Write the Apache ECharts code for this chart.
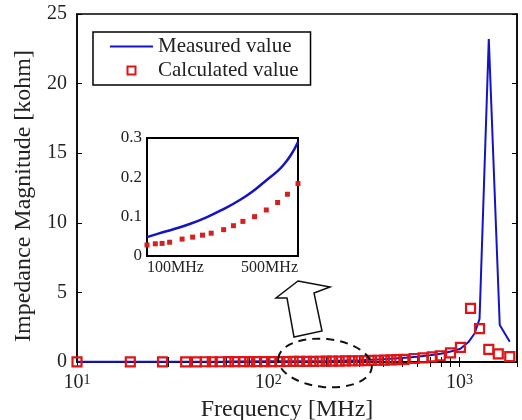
<!DOCTYPE html>
<html>
<head>
<meta charset="utf-8">
<script src="https://cdn.jsdelivr.net/npm/echarts@6/dist/echarts.min.js"></script>
<style>
  html, body { margin: 0; padding: 0; background: #fff; }
  #main { width: 522px; height: 420px; }
</style>
</head>
<body>
<div id="main"></div>
<script>
// main plot: frequency [MHz] and impedance [kohm]
var measFreq = [10, 30, 60, 100, 150, 200, 300, 400, 500, 600, 700, 800, 900, 1012, 1119, 1200, 1274, 1424, 1625, 1833];
var measVal  = [0.01, 0.02, 0.035, 0.05, 0.062, 0.075, 0.12, 0.19, 0.29, 0.38, 0.48, 0.6, 0.75, 0.95, 1.46, 2.05, 3.1, 23.2, 2.66, 1.46];

var calcFreq = [10, 19, 28, 37, 42, 47, 51, 56, 62, 67, 74, 80, 87, 96, 104, 115, 125, 135, 146, 159, 172, 186, 201, 217,
                235, 254, 275, 297, 321, 347, 375, 405, 438, 470, 512, 580, 646, 720, 794, 898, 1012, 1143, 1274, 1424, 1596, 1833];
var calcVal  = [0.005, 0.008, 0.011, 0.014, 0.015, 0.017, 0.018, 0.019, 0.021, 0.022, 0.024, 0.025, 0.026, 0.028, 0.03, 0.033, 0.036, 0.04, 0.043, 0.046, 0.05, 0.053, 0.057, 0.062,
                0.068, 0.075, 0.082, 0.09, 0.1, 0.112, 0.125, 0.14, 0.155, 0.17, 0.19, 0.25, 0.3, 0.37, 0.45, 0.65, 1.05, 3.85, 2.4, 0.9, 0.58, 0.38];

// inset (100 - 500 MHz)
var insetMeasFreq = [100, 130, 170, 215, 259, 300, 347, 385, 418, 445, 462, 482, 500];
var insetMeasVal  = [0.048, 0.057, 0.068, 0.082, 0.099, 0.118, 0.143, 0.168, 0.194, 0.215, 0.232, 0.258, 0.29];
var insetCalcFreq = [100, 122, 140, 160, 193, 221, 247, 270, 303, 329, 354, 385, 416, 446, 472, 500];
var insetCalcVal  = [0.028, 0.031, 0.032, 0.035, 0.043, 0.048, 0.053, 0.058, 0.067, 0.077, 0.088, 0.1, 0.117, 0.136, 0.157, 0.184];

var logTicks = [10, 20, 30, 40, 50, 60, 70, 80, 90, 100, 200, 300, 400, 500, 600, 700, 800, 900, 1000, 2000];
var logLabels = [10, 100, 1000];

function pairs(xs, ys) {
  return xs.map(function (x, i) { return [x, ys[i]]; });
}

var FONT = 'Liberation Serif';
var BLUE = '#1414c4';
var RED = '#e01414';

var chart = echarts.init(document.getElementById('main'));
chart.setOption({
  animation: false,
  textStyle: { fontFamily: FONT, color: '#222' },
  grid: [
    { left: 77, top: 14, right: 5, bottom: 58, outerBoundsMode: 'none', show: true, borderColor: '#000', borderWidth: 1.5 },
    { left: 147, top: 138, width: 151, height: 118, outerBoundsMode: 'none', show: true, borderColor: '#000', borderWidth: 2, backgroundColor: '#fff', z: 5 }
  ],
  legend: {
    left: 93, top: 32, orient: 'vertical',
    borderColor: '#000', borderWidth: 1.5,
    padding: [4, 12, 4, 17],
    itemWidth: 43, itemHeight: 8, itemGap: 3, itemTextGap: 9,
    textStyle: { fontFamily: FONT, fontSize: 21, color: '#222' },
    data: [
      { name: 'Measured value', icon: 'path://M0,0H43V2H0Z', itemStyle: { color: BLUE, borderWidth: 0 } },
      { name: 'Calculated value', icon: 'path://M0,0H10V10H0Z' }
    ]
  },
  xAxis: [
    {
      type: 'log', logBase: 10, min: 10, max: 2000, gridIndex: 0, position: 'bottom',
      axisLine: { lineStyle: { color: '#000', width: 1.5 } },
      axisTick: { inside: true, length: 5, customValues: logTicks, lineStyle: { color: '#000' } },
      axisLabel: {
        customValues: logLabels, margin: 11, fontSize: 20, color: '#222',
        formatter: function (v) { return '10{sup|' + Math.round(Math.log10(v)) + '}'; },
        rich: { sup: { fontSize: 14, verticalAlign: 'top', fontFamily: FONT, color: '#222' } }
      },
      splitLine: { show: false },
      name: 'Frequency [MHz]', nameLocation: 'middle', nameGap: 33,
      nameTextStyle: { fontSize: 24, fontFamily: FONT, color: '#222', padding: [0, 20, 0, 0] }
    },
    {
      type: 'log', logBase: 10, min: 10, max: 2000, gridIndex: 0, position: 'top',
      axisLine: { lineStyle: { color: '#000', width: 1.5 } },
      axisTick: { inside: true, length: 5, customValues: logTicks, lineStyle: { color: '#000' } },
      axisLabel: { show: false },
      splitLine: { show: false }
    },
    {
      type: 'value', min: 100, max: 500, interval: 100, gridIndex: 1,
      axisLine: { lineStyle: { color: '#000', width: 2 } },
      axisTick: { show: false },
      axisLabel: {
        fontSize: 16, color: '#222', margin: 4,
        alignMinLabel: 'left', alignMaxLabel: 'right',
        formatter: function (v) { return (v === 100 || v === 500) ? v + 'MHz' : ''; }
      },
      splitLine: { show: false }
    }
  ],
  yAxis: [
    {
      type: 'value', min: 0, max: 25, interval: 5, gridIndex: 0,
      axisLine: { show: true, lineStyle: { color: '#000', width: 1.5 } },
      axisTick: { inside: true, length: 5, lineStyle: { color: '#000' } },
      axisLabel: { fontSize: 20, color: '#222', margin: 10 },
      splitLine: { show: false },
      name: 'Impedance Magnitude [kohm]', nameLocation: 'middle', nameGap: 38,
      nameTextStyle: { fontSize: 24, fontFamily: FONT, color: '#222', padding: [0, 16, 0, 0] }
    },
    {
      type: 'value', min: 0, max: 25, interval: 5, gridIndex: 0, position: 'right',
      axisLine: { show: true, lineStyle: { color: '#000', width: 1.5 } },
      axisTick: { inside: true, length: 5, lineStyle: { color: '#000' } },
      axisLabel: { show: false },
      splitLine: { show: false }
    },
    {
      type: 'value', min: 0, max: 0.3, interval: 0.1, gridIndex: 1,
      axisLine: { show: true, lineStyle: { color: '#000', width: 2 } },
      axisTick: { show: false },
      axisLabel: { fontSize: 17, color: '#222', margin: 5 },
      splitLine: { show: false }
    },
    {
      type: 'value', min: 0, max: 0.3, interval: 0.1, gridIndex: 1, position: 'right',
      axisLine: { show: true, lineStyle: { color: '#000', width: 2 } },
      axisTick: { inside: true, length: 3, lineStyle: { color: '#000' } },
      axisLabel: { show: false },
      splitLine: { show: false }
    }
  ],
  series: [
    {
      name: 'Measured value', type: 'line', xAxisIndex: 0, yAxisIndex: 0,
      data: pairs(measFreq, measVal),
      symbol: 'none', color: BLUE,
      lineStyle: { color: BLUE, width: 2 }
    },
    {
      name: 'Calculated value', type: 'scatter', xAxisIndex: 0, yAxisIndex: 0,
      data: pairs(calcFreq, calcVal),
      symbol: 'rect', symbolSize: 9,
      itemStyle: { color: 'rgba(255,255,255,0)', borderColor: RED, borderWidth: 2.2, opacity: 1 },
      z: 3
    },
    {
      name: 'inset measured', type: 'line', xAxisIndex: 2, yAxisIndex: 2,
      data: pairs(insetMeasFreq, insetMeasVal),
      symbol: 'none', smooth: true,
      lineStyle: { color: BLUE, width: 2.5 }, z: 6
    },
    {
      name: 'inset calculated', type: 'scatter', xAxisIndex: 2, yAxisIndex: 2,
      data: pairs(insetCalcFreq, insetCalcVal),
      symbol: 'rect', symbolSize: 5,
      itemStyle: { color: '#d42020', opacity: 1 }, z: 6
    }
  ],
  graphic: [
    {
      type: 'ellipse', z: 100, rotation: -0.1, x: 325, y: 363,
      shape: { cx: 0, cy: 0, rx: 47, ry: 24 },
      style: { fill: 'none', stroke: '#111', lineWidth: 2, lineDash: [8, 6] }
    },
    {
      type: 'polygon', z: 100,
      shape: { points: [[298, 281], [330, 287], [314, 293], [322, 331], [294, 337], [287, 298], [276, 298]] },
      style: { fill: '#fff', stroke: '#111', lineWidth: 1.5 }
    }
  ]
});
</script>
</body>
</html>
